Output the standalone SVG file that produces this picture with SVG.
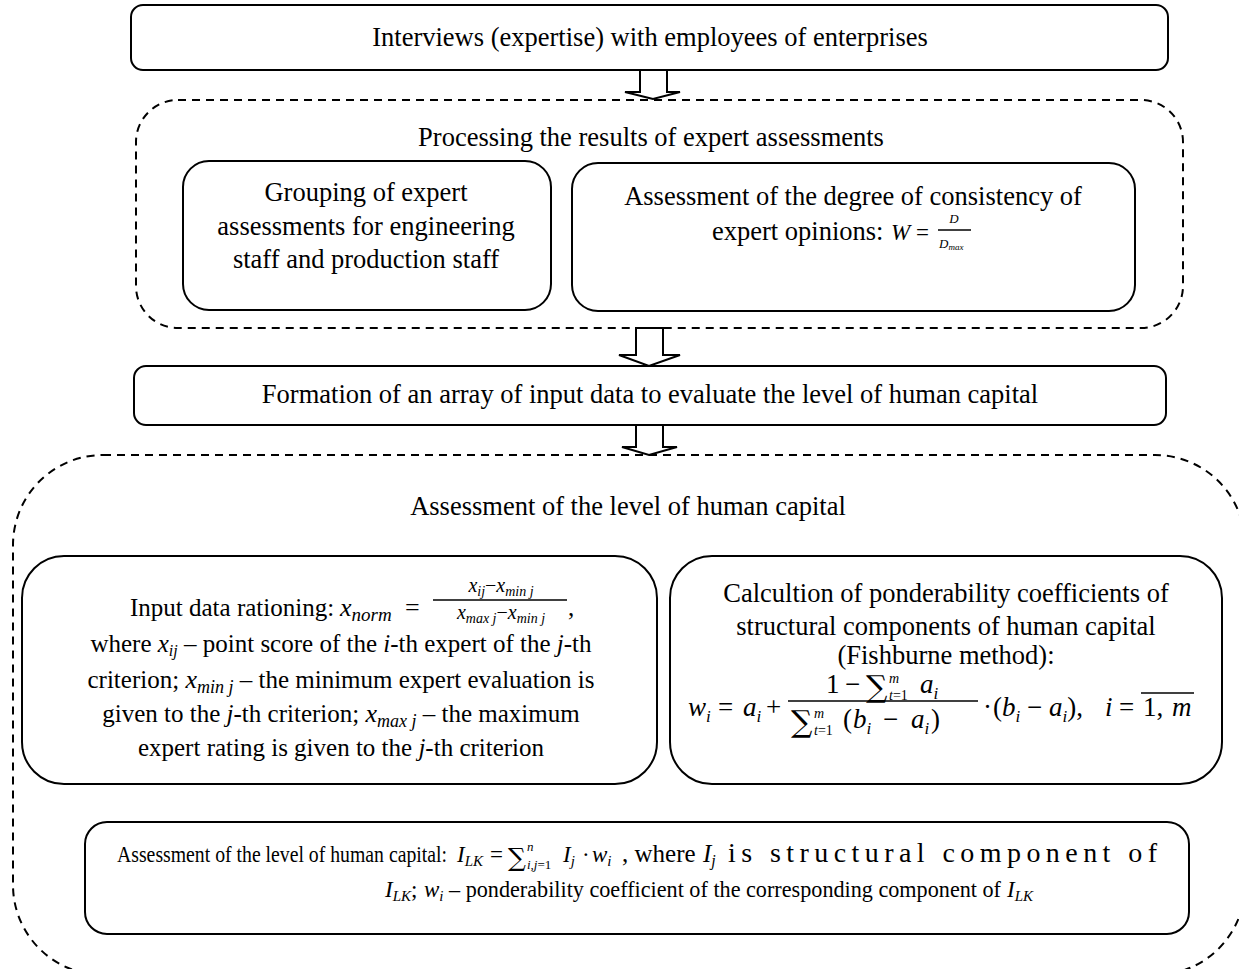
<svg xmlns="http://www.w3.org/2000/svg" width="1239" height="969" viewBox="0 0 1239 969">
<style>
.t{font-family:"Liberation Serif","Times New Roman",serif;fill:#000}
.s{font-family:"DejaVu Serif","Liberation Serif",serif;fill:#000}
.c{text-anchor:middle}
.i{font-style:italic}
.box{fill:#fff;stroke:#000;stroke-width:2}
.dash{fill:none;stroke:#000;stroke-width:2;stroke-dasharray:8 6}
.arr{fill:#fff;stroke:#000;stroke-width:2;stroke-linejoin:miter}
.bar{stroke:#000;stroke-width:1.3}
</style>
<rect width="1239" height="969" fill="#fff"/>
<g font-size="26.5">

<g id="connectors">
<polygon class="arr" points="640,70 667,70 667,92 680,92 653,99 625,92 640,92"/>
<polygon class="arr" points="636,328 663,328 663,355 680,355 649,366 619,355 636,355"/>
<polygon class="arr" points="636,425 663,425 663,447 677,447 649,455 622,447 636,447"/>
</g>

<g id="interviews">
<rect class="box" x="131" y="5" width="1037" height="65" rx="12"/>
<text class="t c" x="650" y="46">Interviews (expertise) with employees of enterprises</text>
</g>

<g id="processing">
<rect class="dash" x="136" y="100" width="1047" height="228" rx="42"/>
<text class="t c" x="651" y="146">Processing the results of expert assessments</text>
</g>

<g id="grouping">
<rect class="box" x="183" y="161" width="368" height="149" rx="26"/>
<text class="t c" x="366" y="201">Grouping of expert</text>
<text class="t c" x="366" y="235">assessments for engineering</text>
<text class="t c" x="366" y="268">staff and production staff</text>
</g>

<g id="consistency">
<rect class="box" x="572" y="163" width="563" height="148" rx="26"/>
<text class="t c" x="853" y="205">Assessment of the degree of consistency of</text>
<text class="t" x="712" y="240">expert opinions:</text>
<text class="t i" x="891" y="240" font-size="23">W</text>
<text class="t" x="916" y="240" font-size="23">=</text>
<text class="t i c" x="954" y="223" font-size="13">D</text>
<line class="bar" x1="938" y1="230" x2="971" y2="230"/>
<text class="t i" x="939" y="248" font-size="13">D<tspan font-size="9" dy="2">max</tspan></text>
</g>

<g id="formation">
<rect class="box" x="134" y="366" width="1032" height="59" rx="12"/>
<text class="t c" x="650" y="403">Formation of an array of input data to evaluate the level of human capital</text>
</g>

<g id="assessment">
<rect class="dash" x="13" y="455" width="1232" height="520" rx="90"/>
<text class="t c" x="628" y="515">Assessment of the level of human capital</text>
</g>

<g id="rationing" font-size="25">
<rect class="box" x="22" y="556" width="635" height="228" rx="42"/>
<text class="t" x="130" y="616">Input data rationing:</text>
<text class="t i" x="340" y="616" font-size="26">x<tspan font-size="19" dy="5">norm</tspan></text>
<text class="t" x="405" y="616" font-size="26">=</text>
<text class="t i c" x="501" y="592" font-size="20">x<tspan font-size="14" dy="4">ij</tspan><tspan font-size="20" dy="-4" font-style="normal">−</tspan>x<tspan font-size="14" dy="4">min j</tspan></text>
<line class="bar" x1="433" y1="600" x2="567" y2="600"/>
<text class="t i c" x="501" y="619" font-size="20">x<tspan font-size="14" dy="4">max j</tspan><tspan font-size="20" dy="-4" font-style="normal">−</tspan>x<tspan font-size="14" dy="4">min j</tspan></text>
<text class="t" x="568" y="616">,</text>
<text class="t c" x="341" y="652">where <tspan class="i">x</tspan><tspan class="i" font-size="16" dy="4">ij</tspan><tspan dy="-4"> – point score of the </tspan><tspan class="i">i</tspan>-th expert  of  the <tspan class="i">j</tspan>-th</text>
<text class="t c" x="341" y="688">criterion; <tspan class="i" font-size="26">x</tspan><tspan class="i" font-size="18" dy="5">min j</tspan><tspan dy="-5"> – the minimum expert evaluation is</tspan></text>
<text class="t c" x="341" y="722">given to the <tspan class="i">j</tspan>-th criterion; <tspan class="i" font-size="26">x</tspan><tspan class="i" font-size="18" dy="5">max j</tspan><tspan dy="-5"> – the maximum</tspan></text>
<text class="t c" x="341" y="756">expert rating is given to the <tspan class="i">j</tspan>-th criterion</text>
</g>

<g id="fishburne">
<rect class="box" x="670" y="556" width="552" height="228" rx="42"/>
<text class="t c" x="946" y="602">Calcultion of ponderability coefficients of</text>
<text class="t c" x="946" y="635">structural components of human capital</text>
<text class="t c" x="946" y="664">(Fishburne method):</text>
<g font-size="27">
<text class="t i" x="688" y="716">w<tspan font-size="17" dy="6">i</tspan></text>
<text class="t" x="718" y="716">=</text>
<text class="t i" x="743" y="716">a<tspan font-size="17" dy="6">i</tspan></text>
<text class="t" x="766" y="716">+</text>
<text class="t" x="826" y="693">1</text>
<text class="t" x="845" y="693">−</text>
<text class="s" x="866" y="697" font-size="30">∑</text>
<text class="t i" x="889" y="683" font-size="14">m</text>
<text class="t i" x="889" y="700" font-size="14">t<tspan font-style="normal">=1</tspan></text>
<text class="t i" x="920" y="693">a<tspan font-size="17" dy="6">i</tspan></text>
<line class="bar" x1="788" y1="701" x2="978" y2="701"/>
<text class="s" x="791" y="732" font-size="30">∑</text>
<text class="t i" x="814" y="718" font-size="14">m</text>
<text class="t i" x="814" y="735" font-size="14">t<tspan font-style="normal">=1</tspan></text>
<text class="t" x="843" y="728">(</text>
<text class="t i" x="853" y="728">b<tspan font-size="17" dy="6">i</tspan></text>
<text class="t" x="883" y="728">−</text>
<text class="t i" x="911" y="728">a<tspan font-size="17" dy="6">i</tspan></text>
<text class="t" x="931" y="728">)</text>
<text class="t" x="983" y="716">·</text>
<text class="t" x="993" y="716">(<tspan class="i">b</tspan><tspan class="i" font-size="17" dy="6">i</tspan><tspan dy="-6"> − </tspan><tspan class="i">a</tspan><tspan class="i" font-size="17" dy="6">i</tspan><tspan dy="-6">),</tspan></text>
<text class="t i" x="1105" y="716">i</text>
<text class="t" x="1119" y="716">=</text>
<text class="t" x="1143" y="716">1,</text>
<text class="t i" x="1172" y="716">m</text>
<line class="bar" x1="1141" y1="693" x2="1194" y2="693"/>
</g>
</g>

<g id="level" font-size="23">
<rect class="box" x="85" y="822" width="1104" height="112" rx="22"/>
<text class="t" x="117" y="862" font-size="24" textLength="330" lengthAdjust="spacingAndGlyphs">Assessment of the level of human capital:</text>
<text class="t i" x="457" y="862">I<tspan font-size="15" dy="4">LK</tspan></text>
<text class="t" x="490" y="862">=</text>
<text class="s" x="508" y="866" font-size="25">∑</text>
<text class="t i" x="527" y="851" font-size="13">n</text>
<text class="t i" x="527" y="869" font-size="13">i,j<tspan font-style="normal">=1</tspan></text>
<text class="t i" x="563" y="862">I<tspan font-size="15" dy="4">j</tspan></text>
<text class="t" x="582" y="862">·</text>
<text class="t i" x="592" y="862">w<tspan font-size="15" dy="4">i</tspan></text>
<text class="t" x="622" y="862" font-size="25">, where</text>
<text class="t i" x="703" y="862" font-size="25">I<tspan font-size="16" dy="4">j</tspan></text>
<text class="t" x="728" y="862" font-size="28" textLength="429" lengthAdjust="spacing">is structural component of</text>
<text class="t i" x="385" y="897">I<tspan font-size="15" dy="4">LK</tspan><tspan dy="-4" font-style="normal">;</tspan></text>
<text class="t i" x="424" y="897">w<tspan font-size="15" dy="4">i</tspan></text>
<text class="t" x="449" y="897" font-size="24" textLength="552" lengthAdjust="spacingAndGlyphs">– ponderability coefficient of the corresponding component of</text>
<text class="t i" x="1007" y="897">I<tspan font-size="15" dy="4">LK</tspan></text>
</g>

</g>
</svg>
